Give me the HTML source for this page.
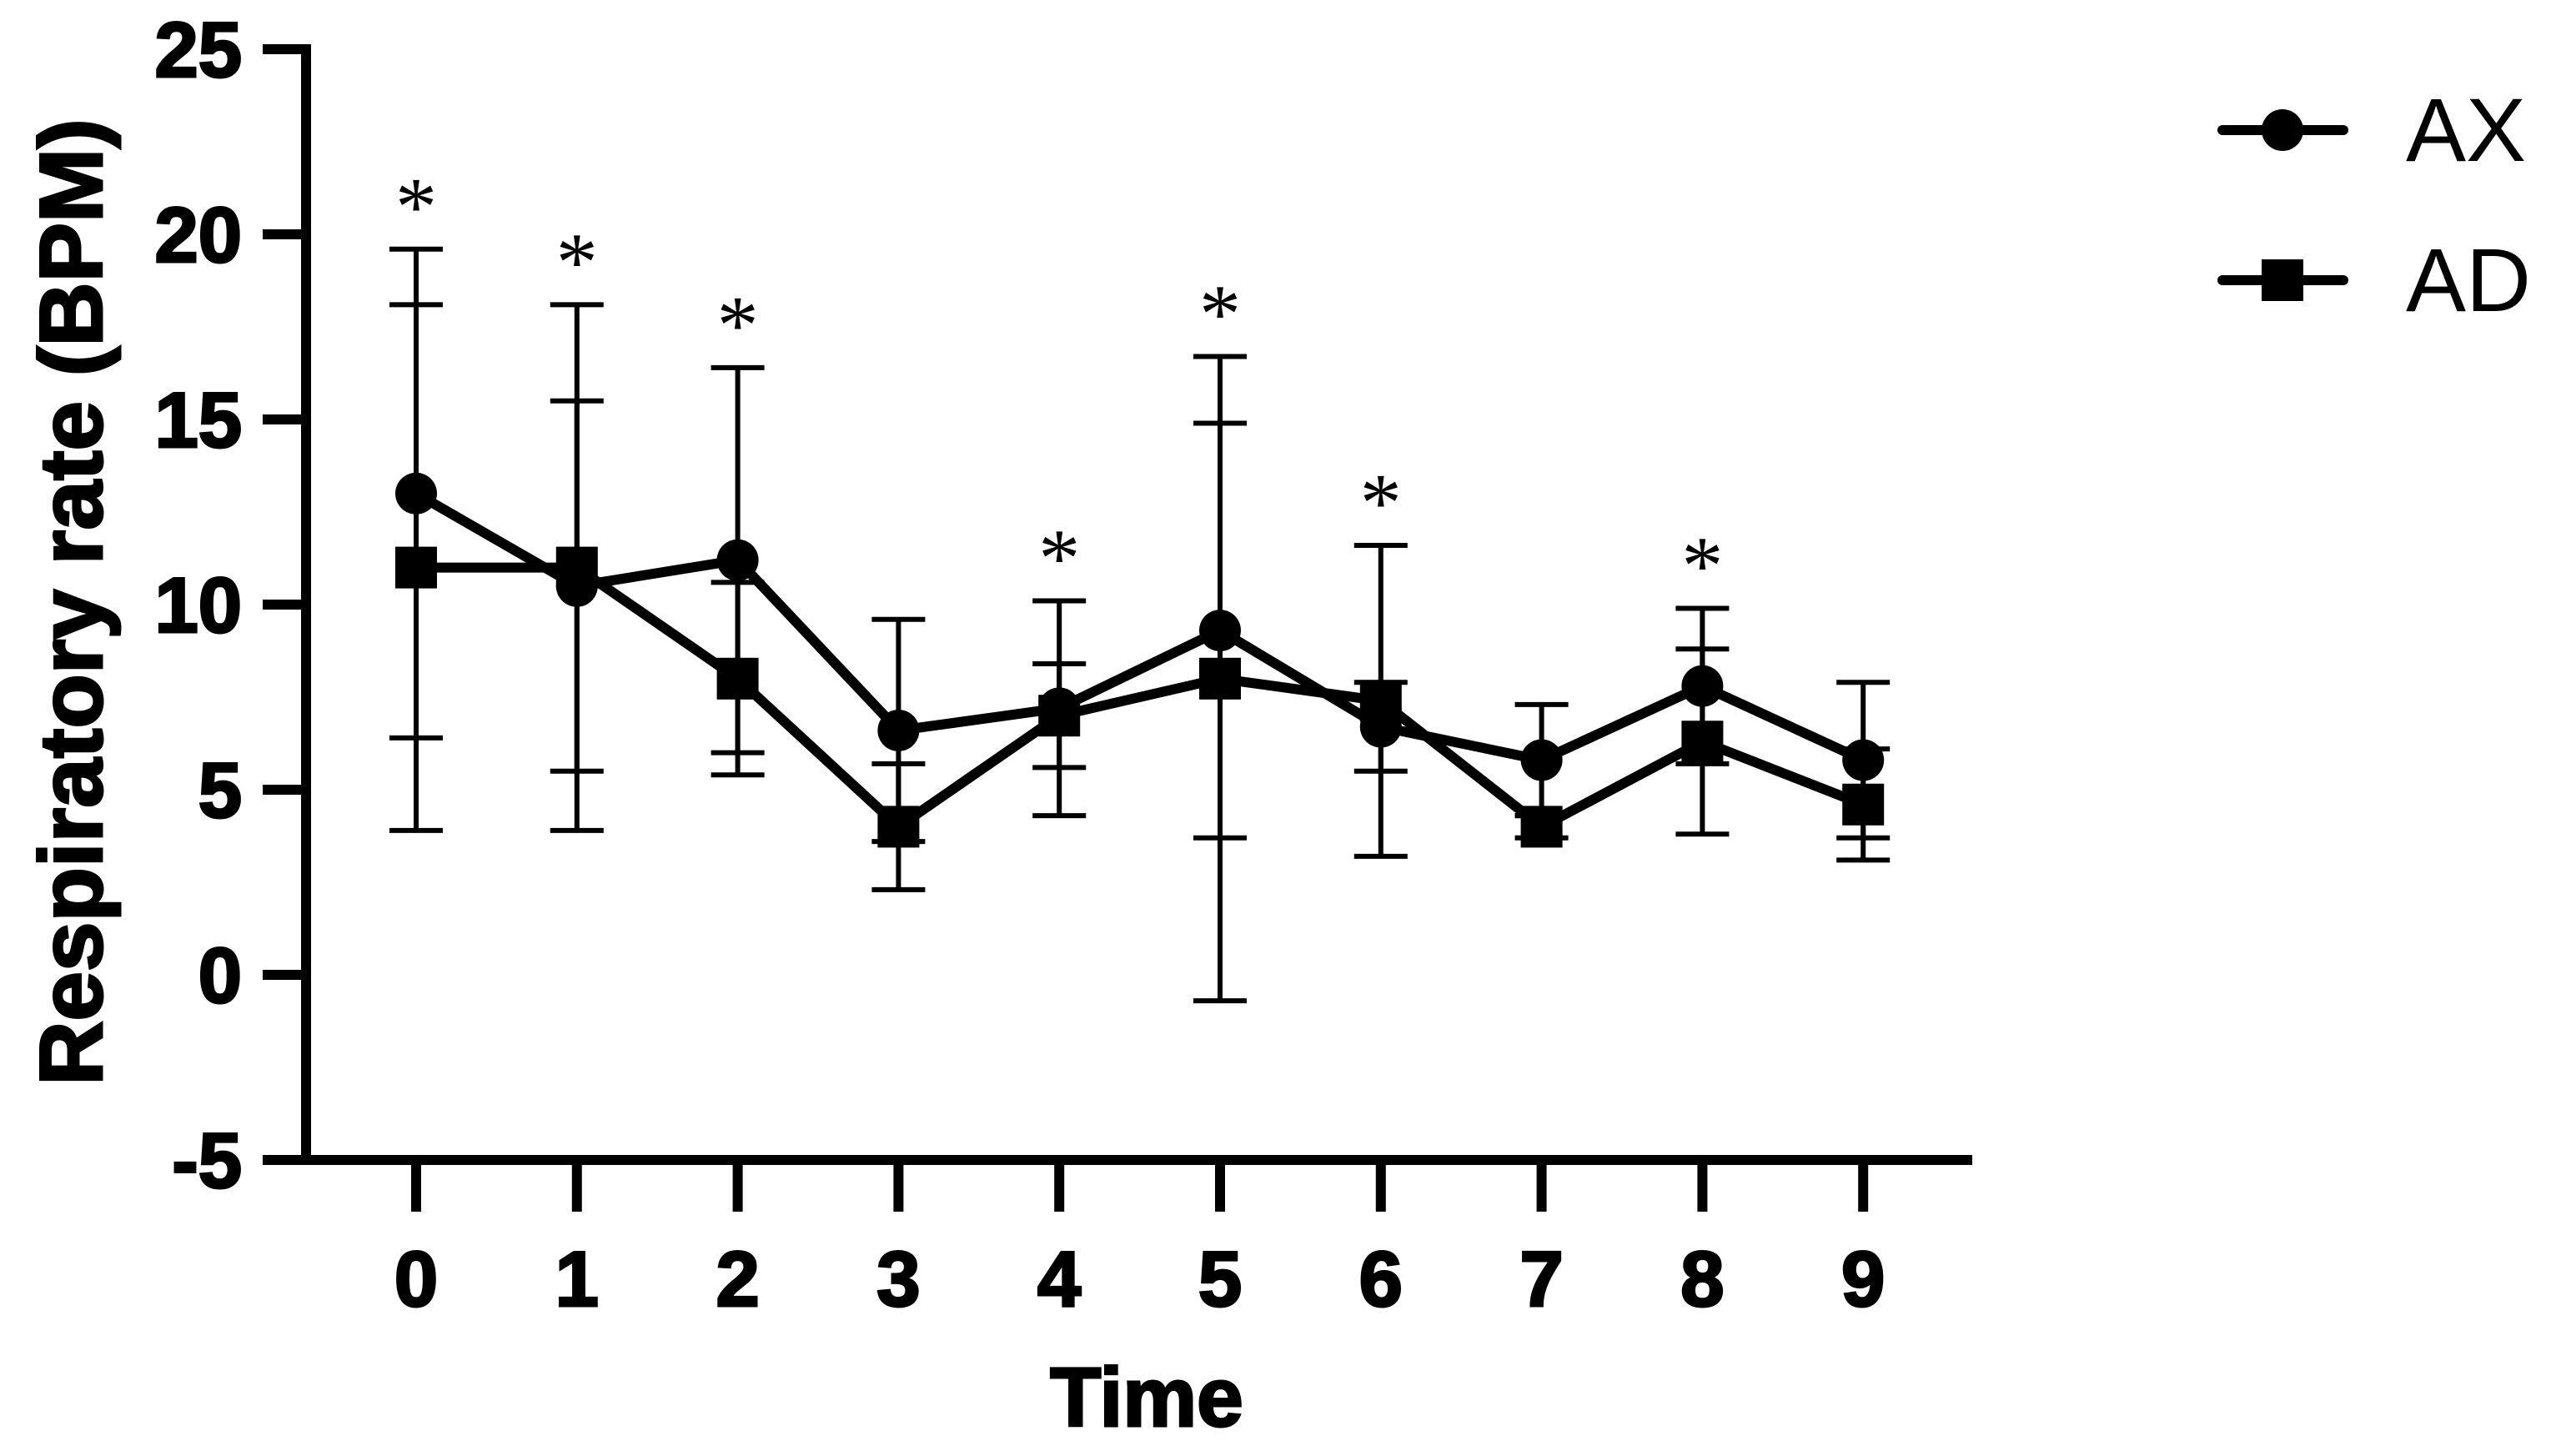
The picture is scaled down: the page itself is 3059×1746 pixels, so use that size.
<!DOCTYPE html>
<html><head><meta charset="utf-8"><style>
html,body{margin:0;padding:0;background:#fff;}
svg{display:block;font-family:"Liberation Sans",Arial,sans-serif;}
</style></head><body>
<svg id="chart" width="3059" height="1746" viewBox="0 0 3059 1746" xmlns="http://www.w3.org/2000/svg">
<g id="axes"></g>
<g id="bars"></g>
<g id="lines"></g>
<g id="marks"></g>
<g id="stars"></g>
<text x="0" y="0" transform="translate(122,722) rotate(-90)" text-anchor="middle" font-weight="bold" font-size="107" stroke="#000" stroke-width="3">Respiratory rate (BPM)</text>
<text x="1375" y="1710" text-anchor="middle" font-weight="bold" font-size="100" stroke="#000" stroke-width="3">Time</text>
<g>
<g>
<line x1="2665" y1="156" x2="2810" y2="156" stroke="#000" stroke-width="12" stroke-linecap="round"/>
<circle cx="2737" cy="156" r="25" fill="#000"/>
<text x="2885" y="193" font-size="108">AX</text></g>
<g>
<line x1="2665" y1="336" x2="2810" y2="336" stroke="#000" stroke-width="12" stroke-linecap="round"/>
<rect x="2712" y="311" width="50" height="50" fill="#000"/>
<text x="2885" y="373" font-size="108">AD</text></g>
</g>
</svg>
<script>
const categories=[0,1,2,3,4,5,6,7,8,9];
const axMean=[13,10.5,11.2,6.6,7.2,9.3,6.7,5.8,7.8,5.8];
const axSD=[6.6,5,5.2,3,2.9,5.6,1.2,1.5,2.1,2.1];
const adMean=[11,11,8,4,7,8,7.4,4,6.3,4.6];
const adSD=[7.1,7.1,2.6,1.7,1.4,8.7,4.2,0.3,2.5,1.5];
const significant=[1,1,1,0,1,1,1,0,1,0];
const yTicks=[-5,0,5,10,15,20,25];
const NS="http://www.w3.org/2000/svg";
const X=i=>499+i*192.8;
const Y=v=>1169-v*44.4;
function mk(tag,attrs,parent){const e=document.createElementNS(NS,tag);for(const k in attrs)e.setAttribute(k,attrs[k]);parent.appendChild(e);return e;}
const axes=document.getElementById('axes');
let e=mk('line',{x1:367,y1:Y(25)-6,x2:367,y2:Y(-5)+6,stroke:'#000','stroke-width':12},axes);


e=mk('line',{x1:362,y1:Y(-5),x2:2365,y2:Y(-5),stroke:'#000','stroke-width':12},axes);


yTicks.forEach(v=>{
 let t=mk('line',{x1:315,y1:Y(v),x2:367,y2:Y(v),stroke:'#000','stroke-width':12},axes);
 
 
 let l=mk('text',{x:290,y:Y(v)+33,'text-anchor':'end','font-weight':'bold','font-size':94,stroke:'#000','stroke-width':3},axes);
 l.textContent=v;
 
 
});
categories.forEach((c,i)=>{
 let t=mk('line',{x1:X(i),y1:Y(-5),x2:X(i),y2:Y(-5)+62,stroke:'#000','stroke-width':12},axes);
 
 
 let l=mk('text',{x:X(i),y:1566,'text-anchor':'middle','font-weight':'bold','font-size':94,stroke:'#000','stroke-width':3},axes);
 l.textContent=c;
 
 
});
const bars=document.getElementById('bars');
function err(m,s,i,name){
 const g=mk('g',{},bars);
 
 
 const x=X(i),t=Y(m+s),b=Y(m-s);
 mk('line',{x1:x,y1:t,x2:x,y2:b,stroke:'#000','stroke-width':6},g);
 mk('line',{x1:x-32,y1:t,x2:x+32,y2:t,stroke:'#000','stroke-width':6},g);
 mk('line',{x1:x-32,y1:b,x2:x+32,y2:b,stroke:'#000','stroke-width':6},g);
}
categories.forEach((c,i)=>{err(axMean[i],axSD[i],i,'ax-error-bar');err(adMean[i],adSD[i],i,'ad-error-bar');});
const lines=document.getElementById('lines');
e=mk('polyline',{points:axMean.map((v,i)=>X(i)+','+Y(v)).join(' '),fill:'none',stroke:'#000','stroke-width':12,'stroke-linejoin':'round'},lines);


e=mk('polyline',{points:adMean.map((v,i)=>X(i)+','+Y(v)).join(' '),fill:'none',stroke:'#000','stroke-width':12,'stroke-linejoin':'round'},lines);


const marks=document.getElementById('marks');
categories.forEach((c,i)=>{
 let s=mk('rect',{x:X(i)-25,y:Y(adMean[i])-25,width:50,height:50,fill:'#000'},marks);
 
 
 let p=mk('circle',{cx:X(i),cy:Y(axMean[i]),r:25,fill:'#000'},marks);
 
 
});
const stars=document.getElementById('stars');
categories.forEach((c,i)=>{
 if(!significant[i])return;
 const top=Math.max(axMean[i]+axSD[i],adMean[i]+adSD[i]);
 let s=mk('text',{x:X(i),y:Y(top)-18,'text-anchor':'middle','font-size':100,'font-family':'Liberation Serif, serif'},stars);
 s.textContent='*';
 
 
});
</script>
</body></html>
